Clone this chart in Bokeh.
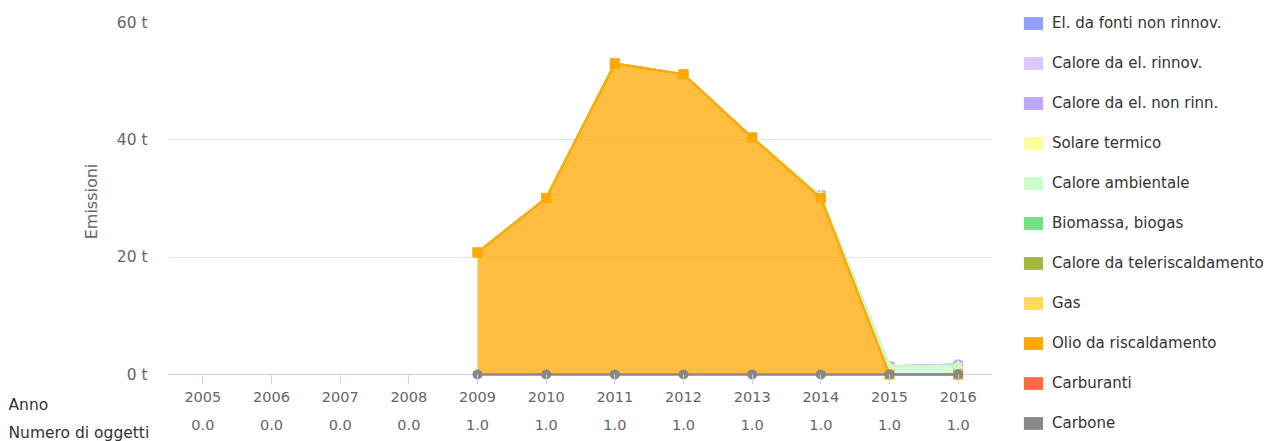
from bokeh.plotting import figure
from bokeh.layouts import row
from bokeh.models import (Range1d, FixedTicker, LinearAxis, Legend, LegendItem,
                          Span, PrintfTickFormatter, ColumnDataSource, Title)
from bokeh.transform import stack
from bokeh.embed import file_html
from bokeh.resources import INLINE

nan = float("nan")

years = [2005, 2006, 2007, 2008, 2009, 2010, 2011, 2012, 2013, 2014, 2015, 2016]
counts = ["0.0", "0.0", "0.0", "0.0", "1.0", "1.0", "1.0", "1.0", "1.0", "1.0", "1.0", "1.0"]
caption_year = "Anno"
caption_count = "Numero di oggetti"

# series values (t), null before 2009
el_non_rinnov = [nan, nan, nan, nan, 0, 0, 0, 0, 0, 0, 0, 0]
calore_el_rinnov = [nan, nan, nan, nan, 0, 0, 0, 0, 0, 0, 0.1, 0.2]
calore_el_non_rinn = [nan, nan, nan, nan, 0, 0, 0, 0, 0, 0, 0, 0]
solare_termico = [nan, nan, nan, nan, 0, 0, 0, 0, 0, 0, 0, 0]
calore_ambientale = [nan, nan, nan, nan, 0, 0, 0, 0, 0, 0.4, 1.3, 1.5]
biomassa = [nan, nan, nan, nan, 0, 0, 0, 0, 0, 0, 0, 0]
teleriscaldamento = [nan, nan, nan, nan, 0, 0, 0, 0, 0, 0, 0, 0]
gas = [nan, nan, nan, nan, 0, 0, 0, 0, 0, 0, 0, 0]
olio = [nan, nan, nan, nan, 20.8, 30.1, 53.0, 51.2, 40.4, 30.1, 0, 0]
carburanti = [nan, nan, nan, nan, 0, 0, 0, 0, 0, 0, 0, 0]
carbone = [nan, nan, nan, nan, 0, 0, 0, 0, 0, 0, 0, 0]

# legend order (top of stack first)
names = ["El. da fonti non rinnov.", "Calore da el. rinnov.", "Calore da el. non rinn.",
         "Solare termico", "Calore ambientale", "Biomassa, biogas",
         "Calore da teleriscaldamento", "Gas", "Olio da riscaldamento",
         "Carburanti", "Carbone"]
colors = ["#90a0ff", "#d8c8ff", "#bfa6ff", "#ffff9c", "#c8ffc8", "#73df86",
          "#a3b843", "#ffdb5c", "#ffa800", "#ff6a47", "#888888"]
markers = ["circle", "diamond", "square", "triangle", "inverted_triangle",
           "circle", "diamond", "square", "square", "inverted_triangle", "circle"]
series = [el_non_rinnov, calore_el_rinnov, calore_el_non_rinn, solare_termico,
          calore_ambientale, biomassa, teleriscaldamento, gas, olio, carburanti, carbone]

keys = ["s%d" % i for i in range(len(series))]
data = {"x": years}
for k, s in zip(keys, series):
    data[k] = s
src = ColumnDataSource(data)

FONT = "DejaVu Sans"
px_per_unit = 352 / 60.0   # 60 t spans 352 px

p = figure(width=1008, height=441, output_backend="svg", toolbar_location=None,
           x_range=Range1d(2004.5, 2016.5),
           y_range=Range1d(-6 / px_per_unit, 60),
           min_border_left=168, min_border_right=16, min_border_top=22,
           min_border_bottom=61)
p.outline_line_color = None
p.background_fill_color = "white"
p.border_fill_color = "white"

# grid
p.xgrid.visible = False
p.ygrid.ticker = FixedTicker(ticks=[20, 40, 60])
p.ygrid.grid_line_color = "#e6e6e6"
p.ygrid.grid_line_width = 1

# y axis
p.yaxis.ticker = FixedTicker(ticks=[0, 20, 40, 60])
p.yaxis.formatter = PrintfTickFormatter(format="%d t")
p.yaxis.axis_line_color = None
p.yaxis.major_tick_line_color = None
p.yaxis.major_tick_out = 0
p.yaxis.major_tick_in = 0
p.yaxis.minor_tick_line_color = None
p.yaxis.major_label_standoff = 21
p.yaxis.major_label_text_font = FONT
p.yaxis.major_label_text_font_size = "15.5px"
p.yaxis.major_label_text_color = "#666666"
p.yaxis.axis_label = "Emissioni"
p.yaxis.axis_label_text_font = FONT
p.yaxis.axis_label_text_font_size = "16px"
p.yaxis.axis_label_text_font_style = "normal"
p.yaxis.axis_label_text_color = "#666666"
p.yaxis.axis_label_standoff = 13

# x axis (years)
xa = p.xaxis[0]
xa.ticker = FixedTicker(ticks=years)
xa.major_label_overrides = {y: str(y) for y in years}
xa.axis_line_color = None
xa.major_tick_line_color = "#ccd6eb"
xa.major_tick_in = 6
xa.major_tick_out = 4
xa.minor_tick_line_color = None
xa.major_label_standoff = 7
xa.major_label_text_font = FONT
xa.major_label_text_font_size = "14.5px"
xa.major_label_text_color = "#666666"

# second x axis (counts)
xa2 = LinearAxis(ticker=FixedTicker(ticks=years),
                 major_label_overrides={y: c for y, c in zip(years, counts)})
xa2.axis_line_color = None
xa2.major_tick_line_color = None
xa2.major_tick_in = 0
xa2.major_tick_out = 0
xa2.minor_tick_line_color = None
xa2.major_label_standoff = 15
xa2.major_label_text_font = FONT
xa2.major_label_text_font_size = "14.5px"
xa2.major_label_text_color = "#666666"

# row captions as zero-height titles shifted to the left edge
def caption(text):
    return Title(text=text, align="left", vertical_align="middle", offset=-160,
                 standoff=-20, text_font=FONT, text_font_size="15.5px",
                 text_font_style="normal", text_color="#333333")

p.below = [xa, caption(caption_year), xa2, caption(caption_count)]

# zero line (axis line)
p.add_layout(Span(location=0, dimension="width", line_color="#ccd6eb", line_width=1,
                  level="underlay"))

# stacked areas: stacking bottom = last series
n = len(series)
for i in range(n):  # draw in legend order (top series first)
    below = keys[i + 1:][::-1]
    upto = keys[i:][::-1]
    y1 = stack(*below) if below else 0
    y2 = stack(*upto)
    p.varea(x="x", y1=y1, y2=y2, source=src, fill_color=colors[i], fill_alpha=0.75)
    p.line(x="x", y=y2, source=src, line_color=colors[i], line_width=2)
    p.scatter(x="x", y=y2, source=src, marker=markers[i], size=10,
              fill_color=colors[i], line_color=None)

# legend figure on the right
pl = figure(width=265, height=441, output_backend="svg", toolbar_location=None,
            x_range=Range1d(0, 1), y_range=Range1d(0, 1),
            min_border_left=0, min_border_right=0, min_border_top=0,
            min_border_bottom=0, x_axis_location=None, y_axis_location=None)
pl.outline_line_color = None
pl.grid.visible = False
for fig in (p, pl):
    if "frame_align" in fig.properties():
        fig.frame_align = False
items = []
for i in range(n):
    below = keys[i + 1:][::-1]
    upto = keys[i:][::-1]
    y1 = stack(*below) if below else 0
    r = pl.varea(x="x", y1=y1, y2=stack(*upto), source=src,
                 fill_color=colors[i], fill_alpha=1.0)
    items.append(LegendItem(label=names[i], renderers=[r]))
legend = Legend(items=items, location=(13, 8), orientation="vertical",
                glyph_width=24, glyph_height=16, label_height=20, spacing=20,
                label_standoff=7, padding=0, margin=0,
                border_line_color=None, background_fill_alpha=0,
                label_text_font=FONT, label_text_font_size="15px",
                label_text_color="#333333")
pl.add_layout(legend, "center")

layout = row(p, pl, spacing=0)
open("out.html", "w").write(file_html(layout, INLINE))
